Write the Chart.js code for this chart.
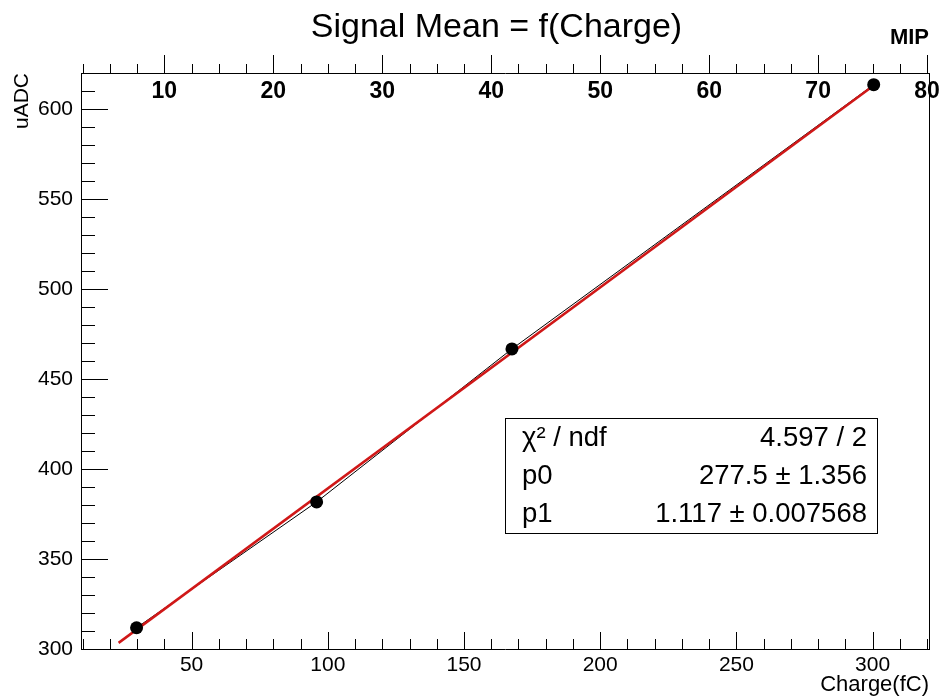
<!DOCTYPE html>
<html>
<head>
<meta charset="utf-8">
<script src="https://cdn.jsdelivr.net/npm/chart.js@4.4.1/dist/chart.umd.min.js"></script>
<style>
html,body{margin:0;padding:0;background:#fff;}
#c{display:block;}
</style>
</head>
<body>
<canvas id="c" width="943" height="699"></canvas>
<script>
// ---- data ----
const chargeFC   = [29.8, 95.9, 167.6, 300.4];
const signalMean = [311.8, 381.7, 466.7, 613.5];
const fitChargeFC = [23.2, 300.4];
const fitSignal   = [303.4, 613.0];
const xTickLabels   = [50, 100, 150, 200, 250, 300];
const yTickLabels   = [300, 350, 400, 450, 500, 550, 600];
const mipTickLabels = [10, 20, 30, 40, 50, 60, 70, 80];
const statsNames  = ['\u03C7\u00B2 / ndf', 'p0', 'p1'];
const statsValues = ['4.597 / 2', '277.5 \u00B1 1.356', '1.117 \u00B1 0.007568'];
const chartTitle = 'Signal Mean = f(Charge)';
const xMin = 9.4, xMax = 320.7, yMin = 300, yMax = 620;
const fcPerMip = 4;

const FAM = "'Liberation Sans', Arial, Helvetica, sans-serif";
const f = (size, weight) => ({family: FAM, size: size, weight: weight || 'normal', lineHeight: 1.2});

function drawTicks(ctx, scale, minor, major, lenMinor, lenMajor, side, edge) {
  const start = Math.ceil(scale.min / minor - 1e-9) * minor;
  for (let v = start; v <= scale.max + 1e-9; v += minor) {
    const isMajor = Math.abs(v / major - Math.round(v / major)) < 1e-6;
    const L = isMajor ? lenMajor : lenMinor;
    const p = Math.round(scale.getPixelForValue(v)) + 0.5;
    ctx.beginPath();
    if (side === 'bottom' || side === 'top') { ctx.moveTo(p, edge); ctx.lineTo(p, edge - L); }
    else if (side === 'left') { ctx.moveTo(edge, p); ctx.lineTo(edge + L, p); }
    ctx.stroke();
  }
}

const decor = {
  id: 'decor',
  afterDraw(chart) {
    const {ctx, chartArea: a, scales} = chart;
    ctx.save();
    ctx.strokeStyle = '#000';
    ctx.lineWidth = 1;
    // right frame line
    const rx = Math.round(a.right) + 0.5;
    ctx.beginPath(); ctx.moveTo(rx, a.top); ctx.lineTo(rx, a.bottom); ctx.stroke();
    // tick marks
    drawTicks(ctx, scales.x, 10, 50, 10, 17, 'bottom', a.bottom);
    drawTicks(ctx, scales.y, 10, 50, 14, 27, 'left', a.left);
    drawTicks(ctx, scales.x2, 2.5, 10, 9, 18, 'top', a.top);
    // title
    ctx.fillStyle = '#000';
    ctx.font = "34px " + FAM;
    ctx.textAlign = 'center';
    ctx.textBaseline = 'alphabetic';
    ctx.fillText(chartTitle, 496.5, 37);
    // stats box
    const bx = 505, by = 418, bw = 372, bh = 115;
    ctx.fillStyle = '#fff';
    ctx.fillRect(bx, by, bw, bh);
    ctx.strokeRect(bx + 0.5, by + 0.5, bw, bh);
    ctx.fillStyle = '#000';
    ctx.font = "27.5px " + FAM;
    const rowH = bh / statsNames.length;
    for (let i = 0; i < statsNames.length; i++) {
      const yb = by + rowH * i + rowH / 2 + 1;
      ctx.textBaseline = 'middle';
      ctx.textAlign = 'left';
      ctx.fillText(statsNames[i], 522, yb);
      ctx.textAlign = 'right';
      ctx.fillText(statsValues[i], 867, yb);
    }
    ctx.restore();
  }
};

const pts = chargeFC.map((x, i) => ({x: x, y: signalMean[i]}));
const fitPts = fitChargeFC.map((x, i) => ({x: x, y: fitSignal[i]}));

new Chart(document.getElementById('c'), {
  type: 'scatter',
  data: {
    datasets: [
      {label: 'data', data: pts, showLine: false, pointRadius: 6.5, pointHoverRadius: 6.5,
       pointBackgroundColor: '#000', pointBorderColor: '#000', pointBorderWidth: 0, order: 0},
      {label: 'fit', data: fitPts, showLine: true, borderColor: '#d01818', borderWidth: 2.5,
       pointRadius: 0, order: 1},
      {label: 'graph', data: pts, showLine: true, borderColor: '#000', borderWidth: 1,
       pointRadius: 0, order: 2}
    ]
  },
  options: {
    responsive: false,
    animation: false,
    devicePixelRatio: 1,
    layout: {padding: {left: 0, right: 14, top: 0, bottom: 0}},
    plugins: {legend: {display: false}, tooltip: {enabled: false}, title: {display: false}},
    scales: {
      x: {
        type: 'linear', position: 'bottom', min: xMin, max: xMax,
        afterBuildTicks: s => { s.ticks = xTickLabels.map(v => ({value: v})); },
        ticks: {font: f(21), color: '#000', padding: 4, maxRotation: 0, autoSkip: false},
        grid: {display: false, drawTicks: false},
        border: {display: true, color: '#000', width: 1},
        title: {display: true, text: 'Charge(fC)', align: 'end', color: '#000', font: f(22), padding: {top: 0, bottom: 1}},
        afterFit: s => { s.height = 50; s.paddingLeft = 0; s.paddingRight = 0; }
      },
      x2: {
        type: 'linear', position: 'top', min: xMin / fcPerMip, max: xMax / fcPerMip,
        afterBuildTicks: s => { s.ticks = mipTickLabels.map(v => ({value: v})); },
        ticks: {font: f(23, 'bold'), color: '#000', mirror: true, padding: 5, maxRotation: 0, autoSkip: false},
        grid: {display: false, drawTicks: false},
        border: {display: true, color: '#000', width: 1},
        title: {display: true, text: 'MIP', align: 'end', color: '#000', font: f(22, 'bold'), padding: {top: 25, bottom: 0}},
        afterFit: s => { s.height = 73; s.paddingLeft = 0; s.paddingRight = 0; }
      },
      y: {
        type: 'linear', position: 'left', min: yMin, max: yMax,
        afterBuildTicks: s => { s.ticks = yTickLabels.map(v => ({value: v})); },
        ticks: {font: f(21), color: '#000', padding: 8, autoSkip: false},
        grid: {display: false, drawTicks: false},
        border: {display: true, color: '#000', width: 1},
        title: {display: true, text: 'uADC', align: 'end', color: '#000', font: f(21), padding: {top: 10, bottom: 0}},
        afterFit: s => { s.width = 81; s.paddingTop = 0; s.paddingBottom = 0; }
      }
    }
  },
  plugins: [decor]
});
</script>
</body>
</html>
